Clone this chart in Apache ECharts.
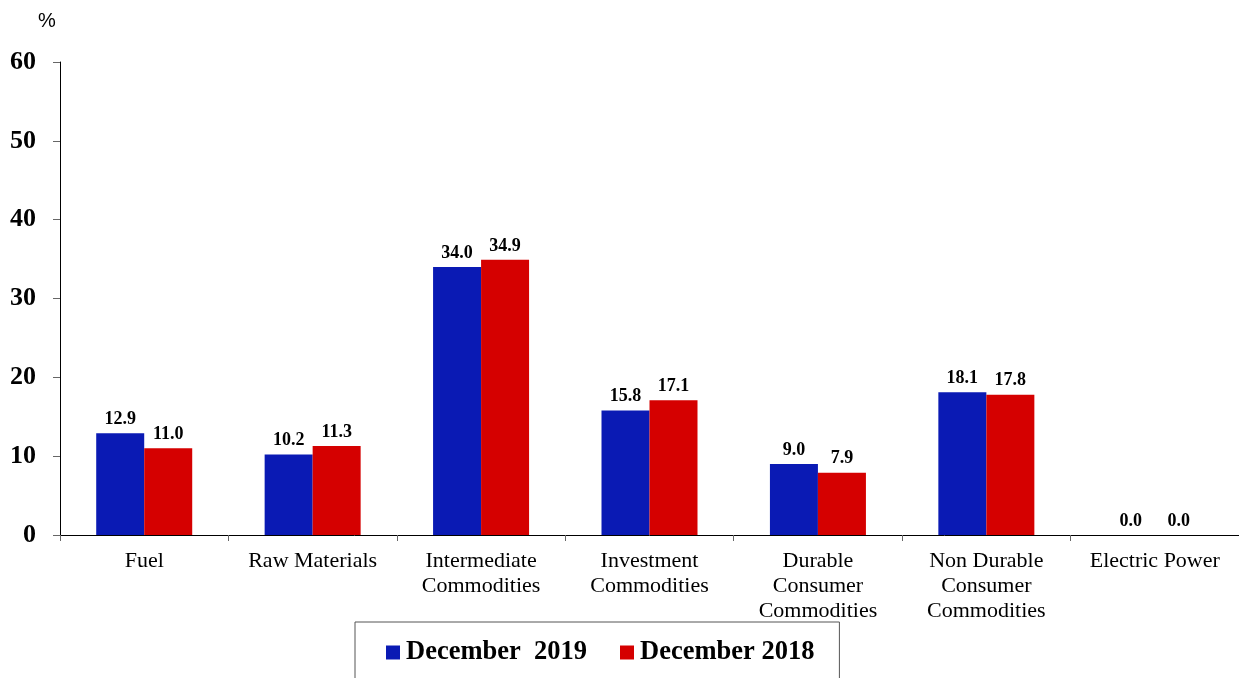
<!DOCTYPE html>
<html><head><meta charset="utf-8">
<script src="https://cdn.jsdelivr.net/npm/echarts@6/dist/echarts.min.js"></script>
<style>html,body{margin:0;padding:0;background:#fff}#c{width:1239px;height:678px}</style>
</head><body><div id="c"></div>
<script>
const categories = ["Fuel","Raw Materials","Intermediate\nCommodities","Investment\nCommodities","Durable\nConsumer\nCommodities","Non Durable\nConsumer\nCommodities","Electric Power"];
const dec2019 = [12.9,10.2,34.0,15.8,9.0,18.1,0.0];
const dec2018 = [11.0,11.3,34.9,17.1,7.9,17.8,0.0];
const seriesNames = ["December  2019","December 2018"];
const yTicks = [0,10,20,30,40,50,60];

const chart = echarts.init(document.getElementById('c'));
const label = {show:true, position:'top', distance:5, fontFamily:'Liberation Serif', fontWeight:'bold', fontSize:18, color:'#000', formatter:p=>p.value.toFixed(1)};
chart.setOption({
  animation:false,
  textStyle:{fontFamily:'Liberation Serif'},
  grid:{left:60, right:0, top:62, bottom:143, containLabel:false},
  legend:{
    left:355, top:622, itemWidth:14, itemHeight:14, itemGap:33,
    padding:[17,25,30,31], borderColor:'#555', borderWidth:1,
    icon:'rect',
    textStyle:{fontFamily:'Liberation Serif', fontWeight:'bold', fontSize:26.5, color:'#000', padding:[0,0,0,1]},
    data:seriesNames
  },
  graphic:[{type:'text', left:38, top:11, style:{text:'%', font:'20px "Liberation Sans"', fill:'#000'}}],
  xAxis:{
    type:'category', data:categories,
    axisLine:{lineStyle:{color:'#000', width:1}},
    axisTick:{show:true, length:6, lineStyle:{color:'#666'}},
    axisLabel:{fontFamily:'Liberation Serif', fontSize:22, color:'#000', margin:14, lineHeight:25, interval:0}
  },
  yAxis:{
    type:'value', min:0, max:60, interval:10,
    axisLine:{show:true, lineStyle:{color:'#000'}},
    axisTick:{show:true, length:7, lineStyle:{color:'#666'}},
    splitLine:{show:false},
    axisLabel:{fontFamily:'Liberation Serif', fontWeight:'bold', fontSize:26, color:'#000', margin:24,
      formatter:v=>yTicks.includes(v)?String(v):''}
  },
  series:[
    {name:seriesNames[0], type:'bar', data:dec2019, itemStyle:{color:'#0A1AB4'}, barGap:'0%', barCategoryGap:'43%', label:label},
    {name:seriesNames[1], type:'bar', data:dec2018, itemStyle:{color:'#D50000'}, barGap:'0%', barCategoryGap:'43%', label:label}
  ]
});
</script></body></html>
